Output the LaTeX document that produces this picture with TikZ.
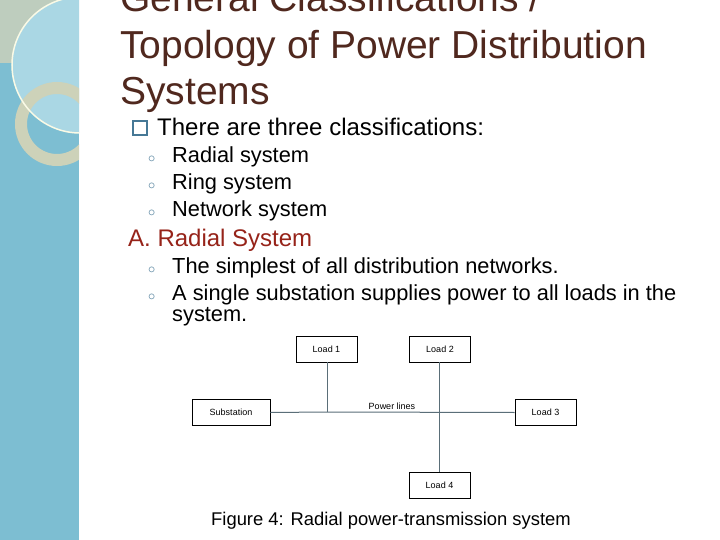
\documentclass[tikz,border=0pt]{standalone}
\usepackage{fontspec}
\setmainfont{Liberation Sans}
\begin{document}
\begin{tikzpicture}[x=1pt,y=-1pt,
  title/.style={anchor=base west,inner sep=0,text=titlec,font=\fontsize{39}{44}\selectfont},
  lvl1/.style={anchor=base west,inner sep=0,font=\fontsize{24}{28}\selectfont},
  lvl2/.style={anchor=base west,inner sep=0,font=\fontsize{21.8}{24}\selectfont},
  bul/.style={anchor=base west,inner sep=0,text=bulc,font=\fontsize{14}{16}\selectfont},
  box/.style={draw=black,line width=0.8pt,minimum width=61pt,minimum height=26pt,inner sep=0,font=\fontsize{9}{10}\selectfont},
  wire/.style={draw=wirec,line width=1pt}]
\definecolor{titlec}{RGB}{80,40,30}
\definecolor{bulc}{RGB}{70,120,150}
\definecolor{panel}{RGB}{125,190,210}
\definecolor{wirec}{RGB}{90,110,120}
\definecolor{radc}{RGB}{150,35,25}
\definecolor{tanc}{RGB}{190,205,190}
\definecolor{lightc}{RGB}{170,215,228}
\definecolor{ringc}{RGB}{205,210,185}
\definecolor{circc}{RGB}{250,250,230}
\useasboundingbox (0,0) rectangle (720,540);
\fill[white] (0,0) rectangle (720,540);
\begin{scope}
\clip (0,0) rectangle (79,540);
\fill[panel] (0,0) rectangle (79,540);
\fill[tanc] (0,0) rectangle (79,63);
\fill[lightc] (80,65) circle (68);
\draw[ringc,line width=12pt] (57,124) circle (36);
\draw[circc,line width=1.5pt] (80,65) circle (68);
\end{scope}
\node[title] (t1) at (120,12) {General Classifications /};
\node[title] (t2) at (120,59) {Topology of Power Distribution};
\node[title] (t3) at (120,105) {Systems};
\node[draw=bulc,line width=1.5pt,minimum size=14pt,inner sep=0,anchor=south west] (b0) at (132,136) {};
\node[lvl1] (l1) at (157,136) {There are three classifications:};
\foreach \y/\t [count=\i] in {163/Radial system,190/Ring system,217/Network system}{
  \node[bul] (bb\i) at (148,\y) {$\circ$};
  \node[lvl2] (s\i) at (172,\y) {\t};}
\node[lvl1,text=radc] (A) at (128,246) {A. Radial System};
\node[bul] (bc1) at (148,273) {$\circ$};
\node[lvl2] (r1) at (172,273) {The simplest of all distribution networks.};
\node[bul] (bc2) at (148,300) {$\circ$};
\node[lvl2] (r2) at (172,300) {A single substation supplies power to all loads in the};
\node[lvl2] (r3) at (172,321) {system.};
\node[box] (L1) at (326.5,349) {Load 1};
\node[box] (L2) at (440,349) {Load 2};
\node[box,minimum width=78pt] (S) at (231,412.5) {Substation};
\node[box] (L3) at (545.5,412.5) {Load 3};
\node[box] (L4) at (439.5,485) {Load 4};
\coordinate (j1) at (327,412);
\coordinate (j2) at (439,412);
\draw[wire] (S.east) -- (j1) -- (L3.west);
\draw[wire] (L1.south -| j1) -- (j1);
\draw[wire] (L2.south -| j2) -- (L4.north -| j2);
\node[anchor=base,inner sep=0,font=\fontsize{9}{10}\selectfont] (pl) at (392,409) {Power lines};
\node[anchor=base,inner sep=0,font=\fontsize{18.4}{20}\selectfont] (cap) at (391,525) {Figure 4: Radial power-transmission system};
\end{tikzpicture}
\end{document}
